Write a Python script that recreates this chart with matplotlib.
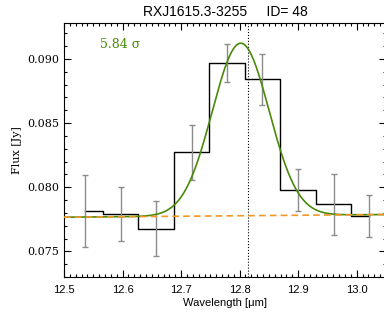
import numpy as np
import matplotlib
matplotlib.use('Agg')
import matplotlib.pyplot as plt
from matplotlib.ticker import MultipleLocator

# binned spectrum
wave = [12.536, 12.597, 12.657, 12.718, 12.779, 12.839, 12.900, 12.961, 13.021]
flux = [0.07815, 0.07791, 0.07677, 0.08271, 0.08966, 0.08841, 0.07977, 0.07867, 0.07773]
flux_err = [0.00283, 0.00208, 0.00216, 0.00217, 0.00148, 0.00200, 0.00165, 0.00237, 0.00164]

# fitted model: linear continuum + gaussian line
cont_x = [12.50, 13.05]
cont_y = [0.07766, 0.07787]
line_center = 12.8018
line_sigma = 0.0486
line_amp = 0.01345
line_rest = 12.814

title = 'RXJ1615.3-3255     ID= 48'
snr_label = '5.84 σ'

fig = plt.figure(figsize=(3.84, 3.18), dpi=100)
ax = fig.add_axes([64 / 384, 1 - 277 / 318, 322 / 384, 254 / 318])

ax.step(wave, flux, where='mid', color='black', lw=1.0, zorder=3)
ax.errorbar(wave, flux, yerr=flux_err, fmt='none', ecolor='#8c8c8c',
            elinewidth=1.0, capsize=2.5, capthick=1.0, zorder=4)

xm = np.linspace(cont_x[0], cont_x[1], 400)
cont = np.interp(xm, cont_x, cont_y)
model = cont + line_amp * np.exp(-0.5 * ((xm - line_center) / line_sigma) ** 2)
ax.plot(xm, model, color='#4a8a0a', lw=1.2, zorder=5)
ax.plot(cont_x, cont_y, color='#f0962a', lw=1.2, dashes=(4, 2.5), zorder=6)

ax.axvline(line_rest, color='black', lw=0.8, ls=':', zorder=2)

ax.set_xlim(12.5, 13.05)
ax.set_ylim(0.0730, 0.0928)

ax.xaxis.set_major_locator(MultipleLocator(0.1))
ax.xaxis.set_minor_locator(MultipleLocator(0.01))
ax.yaxis.set_major_locator(MultipleLocator(0.005))
ax.yaxis.set_minor_locator(MultipleLocator(0.001))
ax.tick_params(which='both', direction='in', top=True, right=True, width=0.8)
ax.tick_params(which='major', length=5)
ax.tick_params(which='minor', length=2.5)
ax.tick_params(axis='x', pad=6)
ax.xaxis.set_major_formatter(matplotlib.ticker.FormatStrFormatter('%.1f'))
ax.yaxis.set_major_formatter(matplotlib.ticker.FormatStrFormatter('%.3f'))

for lab in ax.get_xticklabels():
    lab.set_fontfamily('Liberation Sans')
    lab.set_fontsize(8)
for lab in ax.get_yticklabels():
    lab.set_fontfamily('DejaVu Serif')
    lab.set_fontsize(8)

ax.set_xlabel('Wavelength [μm]', family='Liberation Sans', fontsize=8, labelpad=2)
ax.set_ylabel('Flux [Jy]', family='DejaVu Serif', fontsize=8, labelpad=4)
ax.set_title(title, family='Liberation Sans', fontsize=10, pad=5)

ax.text(0.112, 0.915, snr_label, transform=ax.transAxes, color='#4a8a0a',
        family='DejaVu Serif', fontsize=9, va='center', ha='left')

for s in ax.spines.values():
    s.set_linewidth(0.8)

fig.savefig('out.png', dpi=100)
